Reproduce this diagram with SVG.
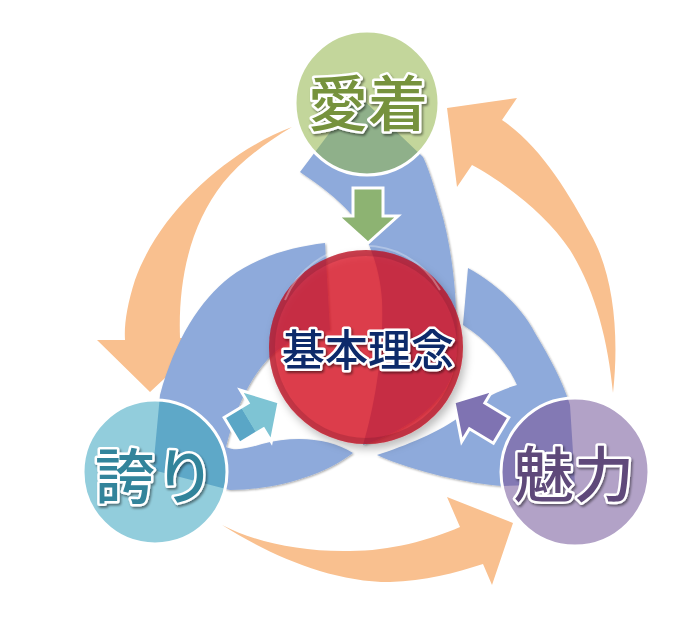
<svg xmlns="http://www.w3.org/2000/svg" xmlns:xlink="http://www.w3.org/1999/xlink" width="687" height="629" viewBox="0 0 687 629">
<style>
.lbl{font-family:"Noto Sans CJK JP","Noto Sans CJK SC",sans-serif;font-weight:500;text-anchor:middle;stroke:#fff;stroke-width:5;stroke-linejoin:round;paint-order:stroke;filter:url(#ts)}
.orange{fill:#f9c08f}
.sarrow{stroke:#fff;stroke-width:3;stroke-linejoin:miter}
.ring{fill:none;stroke:#fff;stroke-width:3}
</style>
<defs>
<filter id="ts" x="-10%" y="-10%" width="130%" height="140%"><feDropShadow dx="1.5" dy="2" stdDeviation="1.2" flood-color="#000" flood-opacity="0.45"/></filter>
<filter id="bs" x="-5%" y="-5%" width="115%" height="115%"><feDropShadow dx="1" dy="1" stdDeviation="1" flood-color="#000" flood-opacity="0.35"/></filter>
<filter id="rs" x="-20%" y="-20%" width="150%" height="150%"><feDropShadow dx="3" dy="5" stdDeviation="4" flood-color="#000" flood-opacity="0.35"/></filter>
<path id="bandA" d="M358,95 L300,172 C318,184 338,199 350,213 C366,232 380,265 382,300 C384,350 375,405 363,445 C395,435 440,410 452,375 C460,350 457,330 456,310 C455,280 450,240 440,207 C435,190 430,172 423,157 Z"/>
<path id="bandB" d="M325,243 C290,247 255,258 230,277 C200,300 175,340 160,395 L153,470 L230,490 C270,490 320,478 353,453 C330,438 295,435 262,444 C248,448 236,452 226,447 C235,410 250,375 275,352 C290,340 310,333 330,330 Z"/>
<path id="bandC" d="M468,268 C495,283 520,305 535,333 C550,358 562,380 570,405 L575,484 L503,486 C470,484 415,472 377,455 C405,446 440,432 462,415 C475,405 490,393 517,385 C508,365 490,342 463,325 Z"/>
<path id="sa" d="M0,-15 H28 V-30 L55,0 L28,30 V15 H0 Z"/>
<clipPath id="cG"><circle cx="367" cy="103" r="72"/></clipPath>
<clipPath id="cH"><circle cx="155" cy="472" r="72"/></clipPath>
<clipPath id="cM"><circle cx="575" cy="472" r="74"/></clipPath>
<linearGradient id="cyanG" x1="0" y1="0" x2="1" y2="0">
<stop offset="0" stop-color="#5aa6c6"/><stop offset="0.35" stop-color="#5aa6c6"/><stop offset="0.36" stop-color="#7ec4d4"/><stop offset="1" stop-color="#7ec4d4"/>
</linearGradient>
</defs>

<g id="connectors">
<path class="orange" d="M292,127 C230,150 160,210 135,280 C127,305 124,325 125,340 L97,340 L150,392 L208,338 L180,338 C178,280 190,225 223,183 C240,162 265,143 292,127 Z"/>
<path class="orange" d="M222,525 C270,555 330,582 390,582 C425,581 455,573 483,564 L492,585 L513,523 L447,497 L460,527 C430,540 390,551 350,551 C300,552 255,542 222,525 Z"/>
<path class="orange" d="M613,393 C620,330 612,270 590,233 C570,195 540,145 502,120 L517,98 L447,108 L457,187 L472,165 C500,180 545,212 570,250 C595,290 608,340 613,393 Z"/>
</g>

<g id="bands" fill="#8eaadb" filter="url(#bs)">
<use xlink:href="#bandA"/>
<use xlink:href="#bandB"/>
<use xlink:href="#bandC"/>
</g>

<g id="small-arrows">
<use xlink:href="#sa" class="sarrow" fill="#8db372" transform="translate(368,243) rotate(90) translate(-55,0)"/>
<use xlink:href="#sa" class="sarrow" fill="url(#cyanG)" transform="translate(279,402) rotate(-31) translate(-55,0)"/>
<use xlink:href="#sa" class="sarrow" fill="#7f73b2" transform="translate(454,402) rotate(-149) translate(-55,0)"/>
</g>

<g id="node-kihon">
<circle cx="366" cy="347" r="97" fill="#dc1020" fill-opacity="0.74" filter="url(#rs)"/>
<circle cx="366" cy="347" r="94" fill="none" stroke="#6a1428" stroke-opacity="0.25" stroke-width="6"/>
<path d="M285,300 A86,86 0 0 1 440,290" fill="none" stroke="#fff" stroke-opacity="0.3" stroke-width="2"/>
<text class="lbl" x="368" y="366" font-size="43" fill="#0b2a6b">基本理念</text>
</g>

<g id="node-aichaku">
<circle cx="367" cy="103" r="72" fill="#c3d69b"/>
<g clip-path="url(#cG)"><use xlink:href="#bandA" fill="#8fb08a"/></g>
<circle class="ring" cx="367" cy="103" r="72"/>
<text class="lbl" x="368" y="126" font-size="60" fill="#76923c">愛着</text>
</g>

<g id="node-hokori">
<circle cx="155" cy="472" r="72" fill="#92cddc"/>
<g clip-path="url(#cH)"><use xlink:href="#bandB" fill="#5ea8c8"/></g>
<circle class="ring" cx="155" cy="472" r="72"/>
<text class="lbl" x="155" y="499" font-size="60" fill="#31849b">誇り</text>
</g>

<g id="node-miryoku">
<circle cx="575" cy="472" r="74" fill="#b2a2c7"/>
<g clip-path="url(#cM)"><use xlink:href="#bandC" fill="#8379b4"/></g>
<circle class="ring" cx="575" cy="472" r="74"/>
<text class="lbl" x="574" y="497" font-size="60" fill="#5f497a">魅力</text>
</g>
</svg>
